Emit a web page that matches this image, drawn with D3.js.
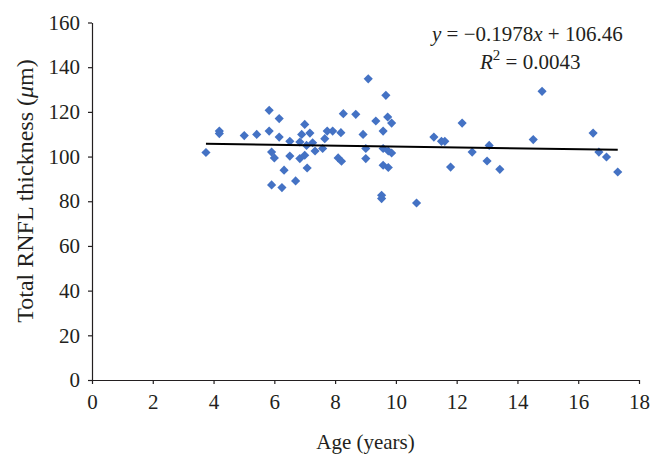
<!DOCTYPE html>
<html>
<head>
<meta charset="utf-8">
<script src="https://cdn.jsdelivr.net/npm/d3@7"></script>
<style>
  html, body { margin: 0; padding: 0; background: #fff; }
  svg { display: block; }
  text { font-family: "Liberation Serif", "DejaVu Serif", serif; fill: #231f20; }
</style>
</head>
<body>
<svg id="chart" width="662" height="460"></svg>
<script>
// Data
const ages = [3.75,4.19,4.19,5.01,5.42,5.83,6.16,5.83,6.16,5.91,6.0,6.51,6.51,6.32,5.91,6.25,6.7,7.0,6.9,7.17,6.84,7.06,7.26,6.84,7.0,7.08,7.34,7.59,7.66,7.74,7.92,8.19,8.27,8.1,8.21,8.68,9.09,9.67,9.34,9.73,9.86,9.58,8.92,9.01,9.01,9.58,9.75,9.86,9.58,9.75,9.53,9.53,10.68,11.25,11.5,11.61,11.8,12.18,12.51,13.0,13.07,13.42,14.52,14.81,16.49,16.68,16.93,17.3];
const rnfl = [101.8,111.4,110.3,109.4,109.9,120.7,117.0,111.4,108.7,102.0,99.4,106.8,100.2,93.9,87.3,86.1,89.1,114.4,109.9,110.5,106.5,105.0,106.2,99.1,100.6,94.9,102.5,103.6,108.0,111.4,111.4,110.7,119.2,99.4,97.9,118.9,134.8,127.4,115.9,117.7,115.0,111.4,109.9,103.6,99.1,103.6,102.5,101.6,96.1,95.1,82.7,81.2,79.2,108.7,106.8,106.8,95.3,115.0,102.0,98.0,105.0,94.3,107.6,129.2,110.5,102.0,99.8,93.1];
const xTicks = [0,2,4,6,8,10,12,14,16,18];
const yTicks = [0,20,40,60,80,100,120,140,160];
const slope = -0.1978;
const intercept = 106.46;
const rSquared = "0.0043";
const xTitle = "Age (years)";

const svg = d3.select("#chart");
const x = d3.scaleLinear().domain([0, 18]).range([92, 639]);
const y = d3.scaleLinear().domain([0, 160]).range([380, 22.5]);
const fontSize = 21;

// Axes
const xAxis = svg.append("g").attr("transform", `translate(0,${y(0)})`)
  .call(d3.axisBottom(x).tickValues(xTicks).tickSize(4).tickSizeOuter(0).tickPadding(10));
const yAxis = svg.append("g").attr("transform", `translate(${x(0)},0)`)
  .call(d3.axisLeft(y).tickValues(yTicks).tickSize(4).tickSizeOuter(0).tickPadding(8));
[xAxis, yAxis].forEach(g => {
  g.selectAll("path.domain").attr("stroke", "#231f20").attr("stroke-width", 1.2);
  g.selectAll(".tick line").attr("stroke", "#231f20").attr("stroke-width", 1.2);
  g.selectAll(".tick text").style("font-size", fontSize + "px")
    .style("font-family", '"Liberation Serif", serif').attr("fill", "#231f20");
});

// Points (diamonds)
const diamond = d3.symbol().type(d3.symbolSquare).size(42);
svg.append("g").selectAll("path").data(ages.map((a, i) => [a, rnfl[i]])).join("path")
  .attr("d", diamond)
  .attr("transform", d => `translate(${x(d[0])},${y(d[1])}) rotate(45)`)
  .attr("fill", "#4472C4");

// Trend line
const x0 = d3.min(ages), x1 = d3.max(ages);
svg.append("line")
  .attr("x1", x(x0)).attr("y1", y(slope * x0 + intercept))
  .attr("x2", x(x1)).attr("y2", y(slope * x1 + intercept))
  .attr("stroke", "#000").attr("stroke-width", 2);

// Equation
const eq = svg.append("text").attr("x", 432).attr("y", 41).style("font-size", fontSize + "px");
eq.append("tspan").attr("font-style", "italic").text("y");
eq.append("tspan").text(" = \u2212" + Math.abs(slope).toFixed(4));
eq.append("tspan").attr("font-style", "italic").text("x");
eq.append("tspan").text(" + " + intercept.toFixed(2));

const r2 = svg.append("text").attr("x", 480).attr("y", 69).style("font-size", fontSize + "px");
r2.append("tspan").attr("font-style", "italic").text("R");
r2.append("tspan").attr("dy", -9).style("font-size", "15px").text("2");
r2.append("tspan").attr("dy", 9).text(" = " + rSquared);

// Axis titles
svg.append("text").attr("x", x(9)).attr("y", 449).attr("text-anchor", "middle")
  .style("font-size", fontSize + "px").text(xTitle);

const yt = svg.append("text").attr("transform", "translate(33,191) rotate(-90)")
  .attr("text-anchor", "middle").style("font-size", "24px");
yt.append("tspan").text("Total RNFL thickness (");
yt.append("tspan").attr("font-style", "italic").text("\u03bc");
yt.append("tspan").text("m)");
</script>
</body>
</html>
